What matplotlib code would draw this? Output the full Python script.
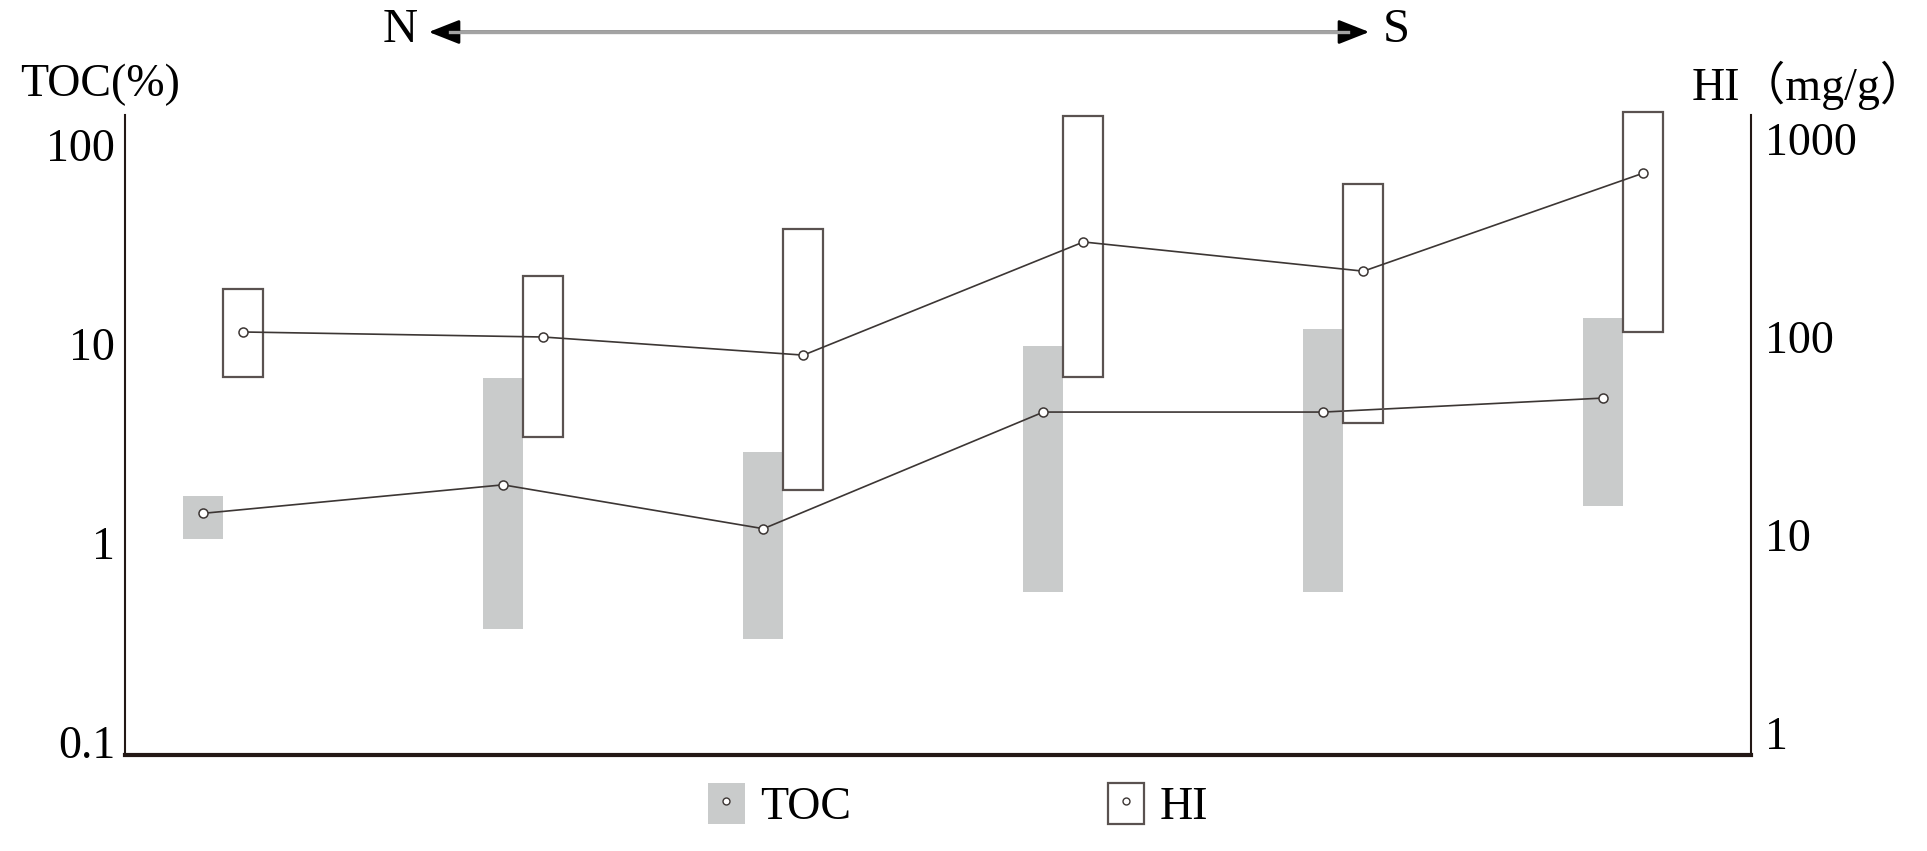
import numpy as np
import matplotlib
matplotlib.use('Agg')
from matplotlib import pyplot as plt
from matplotlib.patches import Patch, FancyArrowPatch
from matplotlib.lines import Line2D

plt.rcParams['font.family'] = ['Liberation Serif', 'Noto Sans CJK SC']

# values (6 sites, N -> S)
toc_low = [1.05, 0.37, 0.33, 0.57, 0.57, 1.53]
toc_high = [1.72, 6.75, 2.87, 9.77, 11.9, 13.5]
toc_mean = [1.41, 1.96, 1.18, 4.55, 4.55, 5.35]
hi_low = [62.8, 31.3, 16.9, 62.8, 36.8, 106]
hi_high = [175, 203, 351, 1306, 593, 1369]
hi_mean = [106, 100, 81, 302, 215, 673]
toc_ticks = [0.1, 1, 10, 100]
toc_ticklabels = ['0.1', '1', '10', '100']
hi_ticks = [1, 10, 100, 1000]
hi_ticklabels = ['1', '10', '100', '1000']

# layout
site_x = np.array([0.28, 1.35, 2.28, 3.28, 4.28, 5.28])
bar_w = 0.143
hi_x = site_x + bar_w
fs = 33
dark = '#231815'
gray_fill = '#c9cbcb'
box_edge = '#5a5250'
line_c = '#3c3634'

fig = plt.figure(figsize=(19.27, 8.51), dpi=100)
ax = fig.add_axes([125 / 1927, 1 - 755 / 851, (1751 - 125) / 1927, (755 - 115) / 851])
ax2 = ax.twinx()

toc_low = np.array(toc_low)
toc_high = np.array(toc_high)
hi_low = np.array(hi_low)
hi_high = np.array(hi_high)

ax.bar(site_x, toc_high - toc_low, bottom=toc_low, width=bar_w,
       color=gray_fill, edgecolor='none', zorder=1)
ax.plot(site_x, toc_mean, color=line_c, lw=1.2, marker='o', ms=6.5,
        mfc='white', mec=line_c, mew=1.1, zorder=3)

ax2.bar(hi_x, hi_high - hi_low, bottom=hi_low, width=bar_w,
        facecolor='none', edgecolor=box_edge, linewidth=1.6, zorder=1, clip_on=False)
ax2.plot(hi_x, hi_mean, color=line_c, lw=1.2, marker='o', ms=6.5,
         mfc='white', mec=line_c, mew=1.1, zorder=3)

ax.set_yscale('log')
ax2.set_yscale('log')
ax.set_xlim(0, 5.807)
ax.set_ylim(10 ** ((543 - 755) / 199), 10 ** ((543 - 115) / 199))
ax2.set_ylim(10 ** ((733 - 755) / 198), 10 ** ((733 - 115) / 198))

ax.set_xticks([])
ax.set_yticks(toc_ticks)
ax.set_yticklabels(toc_ticklabels)
ax.yaxis.set_minor_locator(matplotlib.ticker.NullLocator())
ax.tick_params(axis='y', length=0, pad=7, labelsize=fs)
ax2.set_yticks(hi_ticks)
ax2.set_yticklabels(hi_ticklabels)
ax2.yaxis.set_minor_locator(matplotlib.ticker.NullLocator())
ax2.tick_params(axis='y', length=0, pad=10, labelsize=fs)

for a in (ax, ax2):
    a.spines['top'].set_visible(False)
    a.patch.set_visible(False)
ax.spines['right'].set_visible(False)
ax2.spines['left'].set_visible(False)
ax2.spines['bottom'].set_visible(False)
ax.spines['left'].set_color(dark)
ax.spines['left'].set_linewidth(1.5)
ax.spines['bottom'].set_color(dark)
ax.spines['bottom'].set_linewidth(3)
ax2.spines['right'].set_color(dark)
ax2.spines['right'].set_linewidth(1.5)

# axis titles
fig.text(20 / 1927, 1 - 85 / 851, 'TOC(%)', fontsize=fs, ha='left', va='center')
fig.text(1692 / 1927, 1 - 85 / 851, 'HI（mg/g）', fontsize=fs, ha='left', va='center')

# N <-> S arrow
arr = FancyArrowPatch((426 / 1927, 1 - 32 / 851), (1372 / 1927, 1 - 32 / 851),
                      transform=fig.transFigure,
                      arrowstyle='<|-|>,head_length=19,head_width=7.5',
                      mutation_scale=1, color='black', lw=2)
fig.add_artist(arr)
fig.add_artist(Line2D([450 / 1927, 1348 / 1927], [1 - 32 / 851, 1 - 32 / 851],
                      transform=fig.transFigure, color='#a3a3a3', lw=2.4))
fig.text(400 / 1927, 1 - 30 / 851, 'N', fontsize=fs + 2, ha='center', va='center')
fig.text(1396 / 1927, 1 - 30 / 851, 'S', fontsize=fs + 2, ha='center', va='center')

# legend
mk = dict(marker='o', ms=5, mfc='white', mec=line_c, mew=1, ls='none')
h_toc = (Patch(facecolor=gray_fill, edgecolor='none'), Line2D([], [], **mk))
h_hi = (Patch(facecolor='white', edgecolor=box_edge, linewidth=1.6), Line2D([], [], **mk))
fig.legend([h_toc, h_hi], ['TOC', 'HI'], loc='center', ncol=2,
           bbox_to_anchor=(958 / 1927, 1 - 806 / 851), frameon=False, fontsize=fs,
           handlelength=0.8, handleheight=1.0, handletextpad=0.33, columnspacing=5.6)

plt.savefig('out.png', dpi=100)
